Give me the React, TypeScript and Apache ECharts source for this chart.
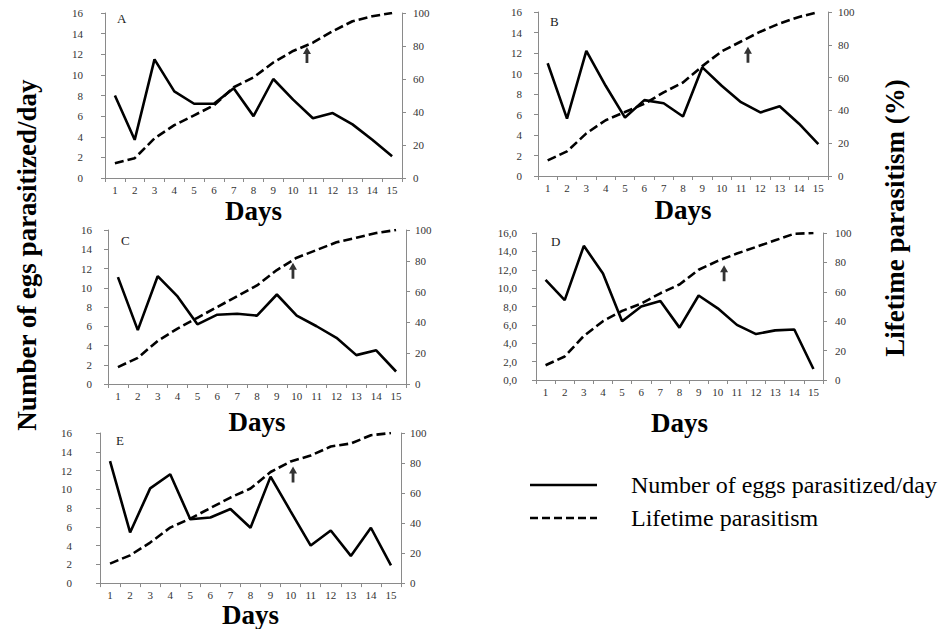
import React, { useEffect, useRef } from "react";
import * as echarts from "echarts";

// ---------- data ----------
const days = ["1", "2", "3", "4", "5", "6", "7", "8", "9", "10", "11", "12", "13", "14", "15"];

const eggsA = [8.0, 3.7, 11.5, 8.4, 7.2, 7.2, 8.7, 6.0, 9.6, 7.6, 5.8, 6.3, 5.2, 3.7, 2.1];
const lifeA = [9, 12, 24, 32, 38, 44, 55, 61, 70, 77, 82, 89, 95, 98, 100];

const eggsB = [11.0, 5.6, 12.2, 8.8, 5.7, 7.4, 7.1, 5.8, 10.6, 8.8, 7.2, 6.2, 6.8, 5.1, 3.1];
const lifeB = [9.5, 15, 26, 34, 39, 44, 51, 57, 67, 76, 82, 88, 93, 97, 100];

const eggsC = [11.1, 5.6, 11.2, 9.1, 6.2, 7.2, 7.3, 7.1, 9.3, 7.1, 6.0, 4.8, 3.0, 3.5, 1.3];
const lifeC = [11, 17, 28, 36, 43, 50, 57, 64, 74, 82, 87, 92, 95, 98, 100];

const eggsD = [10.9, 8.7, 14.6, 11.6, 6.4, 8.0, 8.6, 5.7, 9.2, 7.8, 6.0, 5.0, 5.4, 5.5, 1.2];
const lifeD = [10, 16, 30, 40, 47, 52, 59, 65, 75, 81, 86, 90.5, 95, 99.5, 100];

const eggsE = [13.0, 5.4, 10.1, 11.6, 6.8, 7.0, 7.9, 5.9, 11.35, 7.65, 4.0, 5.6, 2.9, 5.9, 1.9];
const lifeE = [13, 18.5, 27, 37, 43, 50, 57, 63, 74, 81, 85, 91, 93, 98.5, 100];

// arrow markers (day position, lifetime %)
const arrowDay = [10.7, 11.36, 9.81, 10.33, 10.12];
const arrowPct = [74.5, 74, 73.6, 72.7, 72.4];

const panelLetters = ["A", "B", "C", "D", "E"];
const eggsSeries = [eggsA, eggsB, eggsC, eggsD, eggsE];
const lifeSeries = [lifeA, lifeB, lifeC, lifeD, lifeE];

const legendNames = ["Number of eggs parasitized/day", "Lifetime parasitism"];
const leftTitle = "Number of egs parasitized/day";
const rightTitle = "Lifetime parasitism (%)";
const xTitle = "Days";

// ---------- layout ----------
const layouts = [
  { left: 105, top: 13, width: 297, height: 165, lm: 22, rm: 11, gap: 19, lx: 123, ly: 20, comma: false },
  { left: 538, top: 12, width: 290, height: 164, lm: 16, rm: 10, gap: 20, lx: 556, ly: 23, comma: false },
  { left: 108, top: 230, width: 298, height: 154, lm: 16, rm: 9, gap: 24, lx: 127, ly: 242, comma: false },
  { left: 536, top: 233, width: 287, height: 147, lm: 19, rm: 12, gap: 29, lx: 557, ly: 243, comma: true },
  { left: 100, top: 433, width: 301, height: 151, lm: 28, rm: 9, gap: 15, lx: 122, ly: 442, comma: false },
];

const SERIF = "Liberation Serif";
const AXIS_COLOR = "#8a8a8a";
const LABEL_COLOR = "#333";
const ARROW = "path://M4,0 L8,7 L5.4,7 L5.4,16 L2.6,16 L2.6,7 L0,7 Z";

function buildOption() {
  const grid: any[] = [];
  const xAxis: any[] = [];
  const yAxis: any[] = [];
  const series: any[] = [];
  const graphic: any[] = [];

  layouts.forEach((L, i) => {
    grid.push({ left: L.left, top: L.top, width: L.width, height: L.height, containLabel: false });
    xAxis.push({
      type: "category",
      gridIndex: i,
      data: days,
      boundaryGap: true,
      name: xTitle,
      nameLocation: "middle",
      nameGap: L.gap,
      nameTextStyle: { fontFamily: SERIF, fontWeight: "bold", fontSize: 27, color: "#000" },
      axisLine: { lineStyle: { color: AXIS_COLOR, width: 1 } },
      axisTick: { show: true, length: 4, lineStyle: { color: AXIS_COLOR } },
      axisLabel: { interval: 0, margin: 6, fontFamily: SERIF, fontSize: 11, color: LABEL_COLOR },
      splitLine: { show: false },
    });
    xAxis.push({
      type: "value",
      gridIndex: i,
      min: 0.5,
      max: 15.5,
      show: false,
      splitLine: { show: false },
    });
    yAxis.push({
      type: "value",
      gridIndex: i,
      position: "left",
      min: 0,
      max: 16,
      interval: 2,
      axisLine: { show: true, lineStyle: { color: AXIS_COLOR, width: 1 } },
      axisTick: { show: true, length: 4, lineStyle: { color: AXIS_COLOR } },
      axisLabel: {
        margin: L.lm,
        fontFamily: SERIF,
        fontSize: 11,
        color: LABEL_COLOR,
        formatter: (v: number) => (L.comma ? v.toFixed(1).replace(".", ",") : String(v)),
      },
      splitLine: { show: false },
    });
    yAxis.push({
      type: "value",
      gridIndex: i,
      position: "right",
      min: 0,
      max: 100,
      interval: 20,
      axisLine: { show: true, lineStyle: { color: AXIS_COLOR, width: 1 } },
      axisTick: { show: true, length: 4, lineStyle: { color: AXIS_COLOR } },
      axisLabel: { margin: L.rm, fontFamily: SERIF, fontSize: 11, color: LABEL_COLOR },
      splitLine: { show: false },
    });

    series.push({
      type: "line",
      name: legendNames[0],
      xAxisIndex: i * 2,
      yAxisIndex: i * 2,
      data: eggsSeries[i],
      symbol: "none",
      lineStyle: { color: "#000", width: 2.6, type: "solid" },
      z: 3,
    });
    series.push({
      type: "line",
      name: legendNames[1],
      xAxisIndex: i * 2,
      yAxisIndex: i * 2 + 1,
      data: lifeSeries[i],
      symbol: "none",
      lineStyle: { color: "#000", width: 2.6, type: [9, 4] },
      z: 2,
    });
    series.push({
      type: "scatter",
      name: "arrow",
      xAxisIndex: i * 2 + 1,
      yAxisIndex: i * 2 + 1,
      data: [[arrowDay[i], arrowPct[i]]],
      symbol: ARROW,
      symbolSize: [8, 16],
      itemStyle: { color: "#000" },
      silent: true,
      z: 4,
    });

    graphic.push({
      type: "text",
      left: L.lx - 6,
      top: L.ly - 8,
      style: { text: panelLetters[i], fontFamily: SERIF, fontSize: 13, fill: "#222" },
    });
  });

  graphic.push({
    type: "text",
    x: 27,
    y: 255,
    rotation: Math.PI / 2,
    style: {
      text: leftTitle,
      fontFamily: SERIF,
      fontWeight: "bold",
      fontSize: 27,
      fill: "#000",
      align: "center",
      verticalAlign: "middle",
    },
  });
  graphic.push({
    type: "text",
    x: 895,
    y: 218,
    rotation: Math.PI / 2,
    style: {
      text: rightTitle,
      fontFamily: SERIF,
      fontWeight: "bold",
      fontSize: 27,
      fill: "#000",
      align: "center",
      verticalAlign: "middle",
    },
  });

  graphic.push({
    type: "line",
    shape: { x1: 530, y1: 485, x2: 597, y2: 485 },
    style: { stroke: "#000", lineWidth: 2.6 },
  });
  graphic.push({
    type: "line",
    shape: { x1: 530, y1: 518, x2: 597, y2: 518 },
    style: { stroke: "#000", lineWidth: 2.6, lineDash: [8, 4] },
  });
  graphic.push({
    type: "text",
    x: 631,
    y: 485,
    style: {
      text: legendNames[0],
      fontFamily: SERIF,
      fontSize: 24,
      fill: "#000",
      align: "left",
      verticalAlign: "middle",
    },
  });
  graphic.push({
    type: "text",
    x: 631,
    y: 518,
    style: {
      text: legendNames[1],
      fontFamily: SERIF,
      fontSize: 24,
      fill: "#000",
      align: "left",
      verticalAlign: "middle",
    },
  });

  return {
    animation: false,
    backgroundColor: "#fff",
    textStyle: { fontFamily: SERIF },
    grid,
    xAxis,
    yAxis,
    series,
    graphic,
  };
}

export default function App() {
  const ref = useRef<HTMLDivElement>(null);
  useEffect(() => {
    document.body.style.margin = "0";
    if (!ref.current) return;
    const chart = echarts.init(ref.current, undefined, { renderer: "svg" });
    chart.setOption(buildOption());
    return () => chart.dispose();
  }, []);
  return <div ref={ref} style={{ position: "fixed", left: 0, top: 0, width: 945, height: 629 }} />;
}
